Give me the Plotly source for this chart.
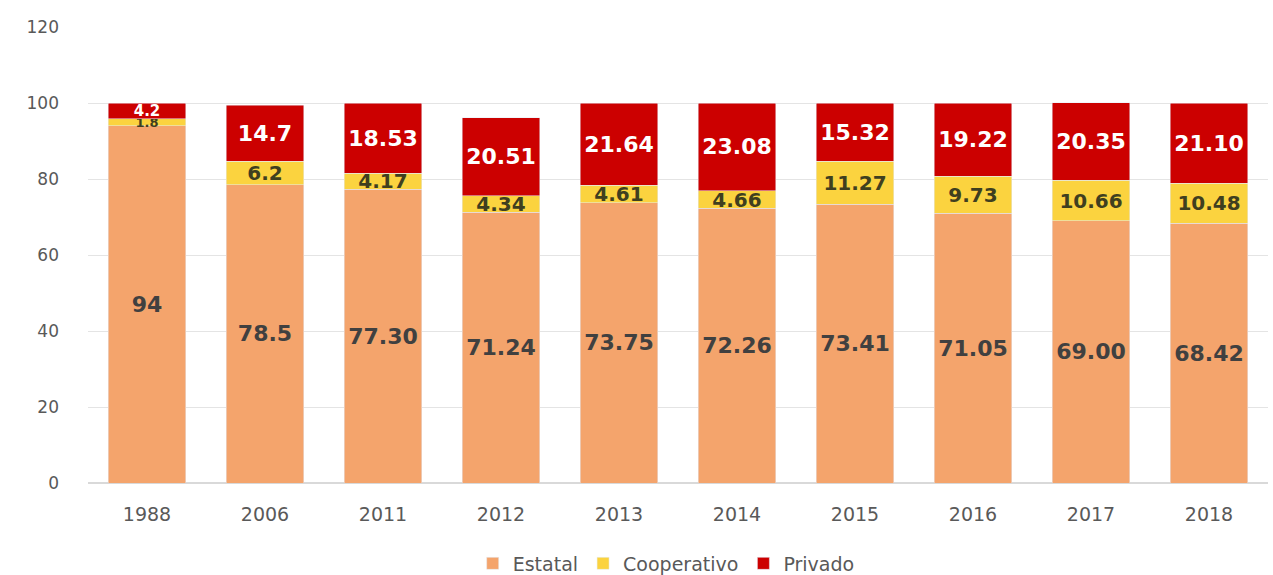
import plotly.graph_objects as go

years = ["1988", "2006", "2011", "2012", "2013", "2014", "2015", "2016", "2017", "2018"]
estatal = [94, 78.5, 77.30, 71.24, 73.75, 72.26, 73.41, 71.05, 69.00, 68.42]
cooperativo = [1.8, 6.2, 4.17, 4.34, 4.61, 4.66, 11.27, 9.73, 10.66, 10.48]
privado = [4.2, 14.7, 18.53, 20.51, 21.64, 23.08, 15.32, 19.22, 20.35, 21.10]
estatal_txt = ["94", "78.5", "77.30", "71.24", "73.75", "72.26", "73.41", "71.05", "69.00", "68.42"]
coop_txt = ["1.8", "6.2", "4.17", "4.34", "4.61", "4.66", "11.27", "9.73", "10.66", "10.48"]
priv_txt = ["4.2", "14.7", "18.53", "20.51", "21.64", "23.08", "15.32", "19.22", "20.35", "21.10"]

# smaller labels where the segments are very thin (1988)
coop_sizes = [13] + [20] * 9
priv_sizes = [15] + [22] * 9

lbl_font = "DejaVu Sans"
fig = go.Figure()
fig.add_bar(x=years, y=estatal, name="Estatal", marker_color="#F4A46C",
            text=estatal_txt, textposition="inside", insidetextanchor="middle",
            constraintext="none",
            textfont=dict(family=lbl_font, size=22, color="#404040", weight="bold"))
fig.add_bar(x=years, y=cooperativo, name="Cooperativo", marker_color="#FBD33F",
            text=coop_txt, textposition="inside", insidetextanchor="middle",
            constraintext="none",
            textfont=dict(family=lbl_font, size=coop_sizes, color="#3F3F1F", weight="bold"))
fig.add_bar(x=years, y=privado, name="Privado", marker_color="#CC0000",
            text=priv_txt, textposition="inside", insidetextanchor="middle",
            constraintext="none",
            textfont=dict(family=lbl_font, size=priv_sizes, color="#FFFFFF", weight="bold"))

fig.update_layout(
    barmode="stack",
    bargap=0.34,
    width=1273, height=575,
    margin=dict(l=88, r=5, t=27, b=92, autoexpand=False),
    plot_bgcolor="white", paper_bgcolor="white",
    font=dict(family="DejaVu Sans", size=17, color="#595959"),
    legend=dict(orientation="h", x=0.49, xanchor="center",
                yref="container", y=0.02, yanchor="middle",
                font=dict(size=19, color="#595959"), traceorder="normal"),
)
fig.update_yaxes(range=[0, 120], dtick=20, showgrid=True, gridcolor="#E4E4E4",
                 zeroline=True, zerolinecolor="#D9D9D9", showline=False,
                 ticks="", ticklabelstandoff=28)
fig.update_xaxes(showline=False, ticks="", tickfont=dict(size=19), ticklabelstandoff=18)

fig.write_html("out.html")
